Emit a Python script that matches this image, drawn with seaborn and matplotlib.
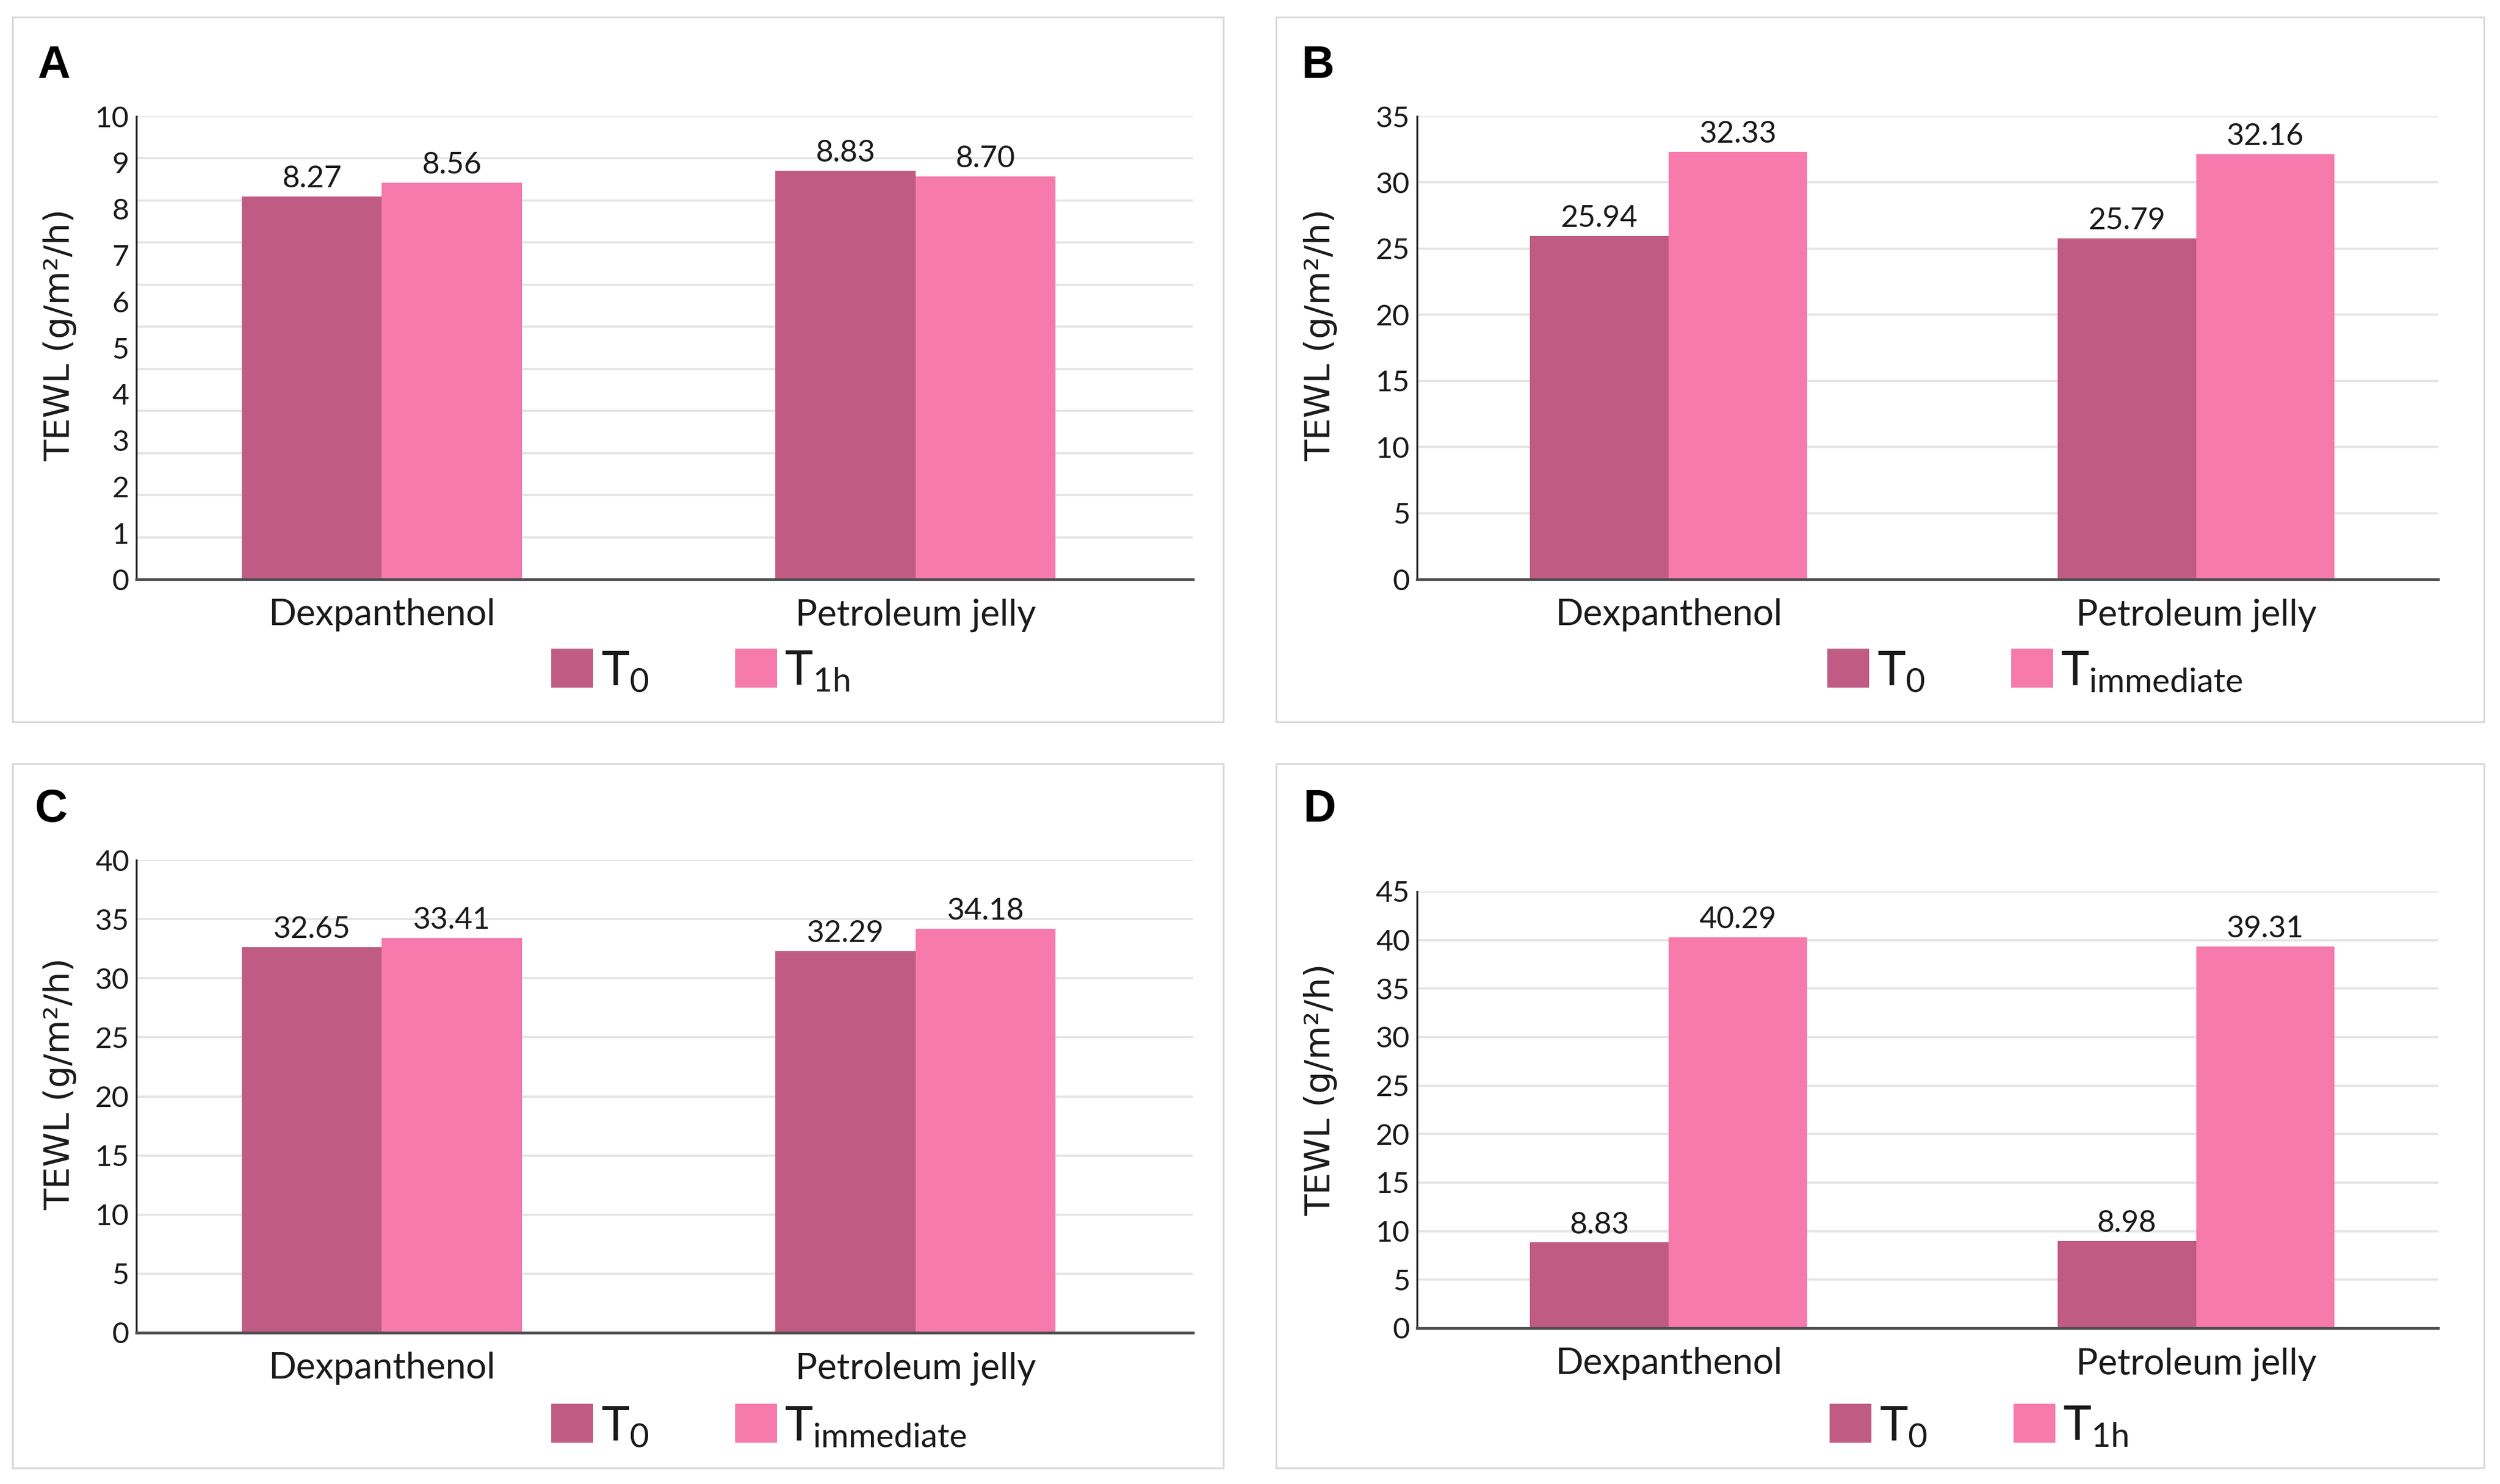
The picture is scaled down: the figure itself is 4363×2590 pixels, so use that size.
import numpy as np
import pandas as pd
import matplotlib
matplotlib.use("Agg")
import matplotlib.pyplot as plt
from matplotlib.patches import Rectangle, Patch
import seaborn as sns

# ---------------- data ----------------
categories = ["Dexpanthenol", "Petroleum jelly"]
panel_ids = ["A", "B", "C", "D"]
t0_values = {"A": [8.27, 8.83], "B": [25.94, 25.79], "C": [32.65, 32.29], "D": [8.83, 8.98]}
t1_values = {"A": [8.56, 8.70], "B": [32.33, 32.16], "C": [33.41, 34.18], "D": [40.29, 39.31]}
second_label = {"A": "1h", "B": "immediate", "C": "immediate", "D": "1h"}
y_max = {"A": 10, "B": 35, "C": 40, "D": 45}
y_step = {"A": 1, "B": 5, "C": 5, "D": 5}
grid_intervals = {"A": 11, "B": 7, "C": 8, "D": 9}
y_label = "TEWL (g/m\u00b2/h)"

# ---------------- style ----------------
sns.set_theme(style="white")
plt.rcParams["font.family"] = ["Lato", "DejaVu Sans"]
plt.rcParams["mathtext.fontset"] = "custom"
plt.rcParams["mathtext.rm"] = "Lato"

DARK = "#C05C84"
LIGHT = "#F67AAC"
TXT = "#1a1a1a"
W, H = 4363, 2590
fig = plt.figure(figsize=(W / 100, H / 100), dpi=100)
fig.patch.set_facecolor("white")


def rect(l, t, r, b):
    return [l / W, 1 - b / H, (r - l) / W, (b - t) / H]


axes_px = {"A": (238, 203, 2082, 1011), "B": (2473, 203, 4255, 1011),
           "C": (238, 1501, 2082, 2326), "D": (2473, 1556, 4255, 2318)}
frames_px = {"A": (22, 30, 2135, 1260), "B": (2227, 30, 4335, 1260),
             "C": (22, 1333, 2135, 2562), "D": (2227, 1333, 4335, 2562)}
letter_px = {"A": (65, 78), "B": (2272, 78), "C": (61, 1376), "D": (2275, 1376)}
ylabel_px = {"A": (105, 585), "B": (2305, 585), "C": (105, 1892), "D": (2305, 1902)}
legend_px = {"A": (962, 1171), "B": (3189, 1171), "C": (962, 2489), "D": (3193, 2489)}
xlims = {"A": (-0.46, 1.52), "B": (-0.477, 1.459), "C": (-0.46, 1.52), "D": (-0.477, 1.459)}

for p in panel_ids:
    l, t, r, b = frames_px[p]
    fig.patches.append(Rectangle((l / W, 1 - b / H), (r - l) / W, (b - t) / H,
                                 transform=fig.transFigure, fill=False,
                                 edgecolor="#d9d9d9", linewidth=2.2, zorder=0))

    df = pd.DataFrame({
        "product": categories * 2,
        "time": ["T0"] * 2 + ["T1"] * 2,
        "value": t0_values[p] + t1_values[p],
    })
    ax = fig.add_axes(rect(*axes_px[p]))
    sns.barplot(data=df, x="product", y="value", hue="time", order=categories,
                hue_order=["T0", "T1"], palette=[DARK, LIGHT], width=0.525,
                saturation=1, legend=False, ax=ax, linewidth=0, zorder=3)
    ax.set_xlim(*xlims[p])
    ax.set_ylim(0, y_max[p])
    ax.set_yticks(np.arange(0, y_max[p] + 0.001, y_step[p]))
    ax.set_yticklabels([str(int(v)) for v in np.arange(0, y_max[p] + 0.001, y_step[p])])
    ax.grid(False)
    for gy in np.linspace(0, y_max[p], grid_intervals[p] + 1)[1:]:
        ax.axhline(gy, color="#e4e4e4", linewidth=2.7, zorder=1)
    ax.set_xlabel("")
    ax.set_ylabel("")
    for s in ["top", "right"]:
        ax.spines[s].set_visible(False)
    ax.spines["left"].set_color("#262626")
    ax.spines["left"].set_linewidth(2.4)
    ax.spines["bottom"].set_color("#4d4d4d")
    ax.spines["bottom"].set_linewidth(3.4)
    ax.spines["bottom"].set_zorder(5)
    ax.tick_params(axis="y", length=0, pad=9, labelsize=37, labelcolor=TXT)
    ax.tick_params(axis="x", length=0, pad=24, labelsize=46, labelcolor=TXT)
    for c in ax.containers:
        ax.bar_label(c, fmt="%.2f", padding=5, fontsize=38, color=TXT)

    lx, ly = letter_px[p]
    fig.text(lx / W, 1 - ly / H, p, ha="left", va="top", fontsize=57,
             fontweight="bold", family=["Liberation Sans", "DejaVu Sans"], color="black")
    yx, yy = ylabel_px[p]
    fig.text(yx / W, 1 - yy / H, y_label, rotation=90, ha="center", va="center",
             fontsize=44, family=["DejaVu Sans"], color=TXT)

    handles = [Patch(facecolor=DARK, edgecolor="none"), Patch(facecolor=LIGHT, edgecolor="none")]
    labels = [r"$\mathregular{T_{0}}$", r"$\mathregular{T_{%s}}$" % second_label[p]]
    gx, gy_ = legend_px[p]
    fig.legend(handles, labels, loc="center left", bbox_to_anchor=(gx / W, 1 - gy_ / H),
               ncol=2, frameon=False, fontsize=60, handlelength=0.88, handleheight=0.88,
               handletextpad=0.16, columnspacing=1.8, borderpad=0, borderaxespad=0,
               labelcolor=TXT)

fig.savefig("out.png", dpi=100, facecolor="white")
